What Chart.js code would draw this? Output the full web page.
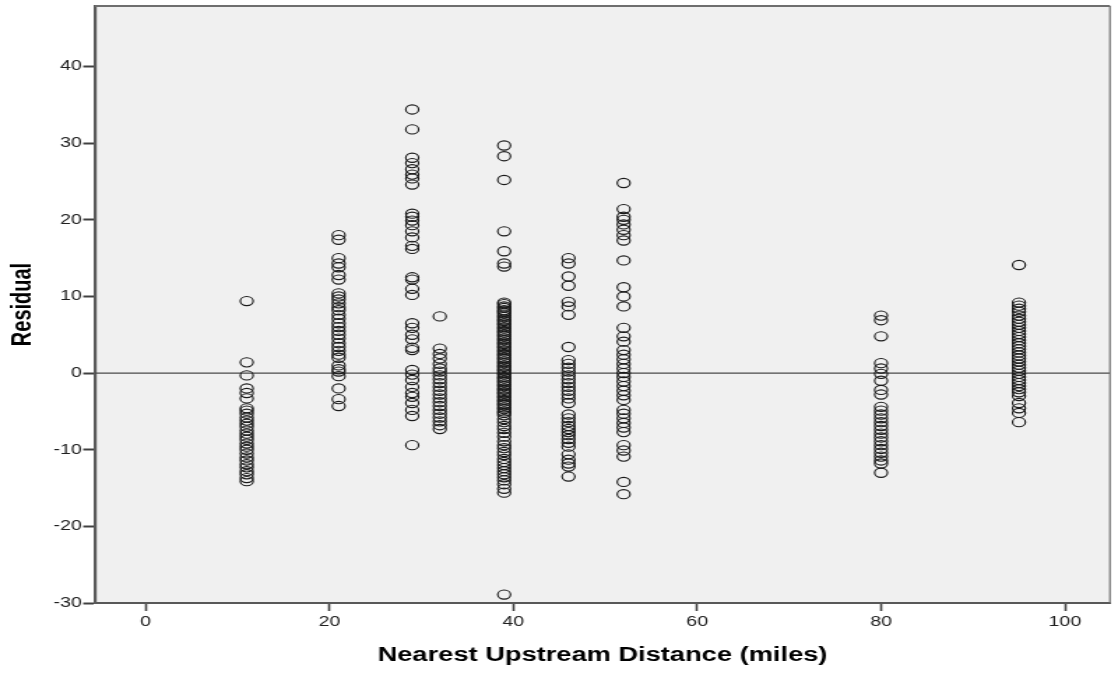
<!DOCTYPE html>
<html>
<head>
<meta charset="utf-8">
<script src="https://cdn.jsdelivr.net/npm/chart.js@4.4.0/dist/chart.umd.min.js"></script>
<style>
  html, body { margin: 0; padding: 0; background: #ffffff; }
  #wrap { width: 1118px; height: 673px; }
</style>
</head>
<body>
<div id="wrap">
  <canvas id="residChart" width="800" height="673" style="width:1118px;height:673px"></canvas>
</div>
<script>
//Data---------------------------------------------------

// nearest upstream distance (miles) for each group of sites
const distances = [11, 21, 29, 32, 39, 46, 52, 80, 95];

// residuals read per distance group
const resid11 = [9.4, 1.4, -0.3, -2.0, -2.6, -3.3, -4.6, -4.9, -5.3, -5.8, -6.2, -6.6, -7.0, -7.5, -7.9,
    -8.3, -8.7, -9.2, -9.6, -10.0, -10.5, -11.0, -11.4, -11.9, -12.3, -12.8, -13.2, -13.7, -14.1];
const resid21 = [18.0, 17.4, 15.0, 14.3, 13.8, 12.8, 12.2, 10.4, 10.0, 9.6, 9.1, 8.6, 8.2, 7.6, 7.1, 6.5,
    6.0, 5.5, 5.0, 4.5, 3.9, 3.4, 2.9, 2.4, 2.0, 1.0, 0.5, 0.2, -0.4, -2.0, -3.4, -4.3];
const resid29 = [34.4, 31.8, 28.1, 27.4, 26.6, 25.9, 25.4, 24.6, 20.8, 20.4, 19.9, 19.3, 18.5, 17.7, 16.6,
    16.2, 12.5, 12.2, 11.0, 10.2, 6.5, 5.9, 5.0, 4.4, 3.3, 3.0, 0.4, -0.2, -0.9, -1.8, -2.6, -3.1, -3.9,
    -4.8, -5.6, -9.4];
const resid32 = [7.4, 3.2, 2.5, 1.9, 1.2, 0.6, 0.2, -0.3, -0.8, -1.3, -1.8, -2.3, -2.8, -3.3, -3.8, -4.3,
    -4.8, -5.3, -5.8, -6.3, -6.8, -7.3];
const resid39 = [29.7, 28.3, 25.2, 18.5, 15.9, 14.3, 13.9,
    9.2, 9.0, 8.7, 8.5, 8.2, 8.0, 7.8, 7.5, 7.3, 7.0, 6.8, 6.5, 6.3, 6.0, 5.8, 5.5, 5.3, 5.0, 4.8, 4.5,
    4.3, 4.0, 3.8, 3.5, 3.3, 3.0, 2.8, 2.5, 2.3, 2.0, 1.8, 1.5, 1.3, 1.0, 0.8, 0.5, 0.3, 0.0, -0.2, -0.5,
    -0.7, -1.0, -1.2, -1.5, -1.7, -2.0, -2.2, -2.5, -2.7, -3.0, -3.2, -3.5, -3.7, -4.0, -4.2, -4.5, -4.7,
    -5.0, -5.2, -5.5,
    -6.0, -6.4, -6.9, -7.3, -7.8, -8.3, -8.9, -9.4, -9.8, -10.3, -10.7, -11.2, -11.6, -12.0, -12.4,
    -12.8, -13.2, -13.6, -14.0, -14.5, -15.1, -15.6, -28.9];
const resid46 = [15.0, 14.3, 12.6, 11.4, 9.3, 8.7, 7.6, 3.4, 1.7, 1.2, 0.7, 0.2, -0.3, -0.8, -1.3, -1.8,
    -2.3, -2.8, -3.3, -3.9, -5.4, -5.9, -6.4, -6.9, -7.3, -7.7, -8.1, -8.6, -9.1, -9.6, -10.6, -11.3,
    -11.8, -12.2, -13.5];
const resid52 = [24.8, 21.4, 20.4, 20.0, 19.4, 18.7, 18.0, 17.3, 14.7, 11.2, 10.0, 8.7, 5.9, 4.8, 4.1,
    3.0, 2.4, 1.8, 1.2, 0.6, 0.0, -0.5, -1.1, -1.7, -2.3, -2.9, -3.5, -4.8, -5.3, -5.9, -6.5, -7.1, -7.7,
    -9.4, -10.1, -10.9, -14.2, -15.8];
const resid80 = [7.5, 6.9, 4.8, 1.3, 0.6, -0.1, -1.0, -2.2, -2.8, -4.4, -4.9, -5.4, -5.9, -6.4, -6.9,
    -7.4, -7.9, -8.4, -8.9, -9.4, -9.9, -10.4, -10.9, -11.4, -11.8, -13.0];
const resid95 = [14.1, 9.2, 8.8, 8.4, 8.0, 7.5, 7.1, 6.7, 6.3, 5.9, 5.5, 5.1, 4.7, 4.3, 3.9, 3.5, 3.1,
    2.7, 2.3, 1.9, 1.5, 1.1, 0.7, 0.3, -0.1, -0.5, -0.9, -1.3, -1.7, -2.1, -2.5, -3.0, -3.9, -4.6, -5.2,
    -6.4];

const residGroups = [resid11, resid21, resid29, resid32, resid39, resid46, resid52, resid80, resid95];

// axis ranges and ticks
const xRange = [-5.5, 104.9];
const yRange = [-30, 47.9];
const xStep = 20;
const yStep = 10;

//Points---------------------------------------------------

const points = [];
distances.forEach((d, i) => {
    residGroups[i].forEach(r => points.push({ x: d, y: r }));
});

//  plot area fill and frame
const plotFrame = {
    id: 'plotFrame',
    beforeDraw(chart) {
        const { ctx, chartArea: a } = chart;
        ctx.save();
        ctx.fillStyle = '#f0f0f0';
        ctx.fillRect(a.left, a.top, a.right - a.left, a.bottom - a.top);
        ctx.restore();
    },
    afterDraw(chart) {
        const { ctx, chartArea: a } = chart;
        ctx.save();
        ctx.strokeStyle = '#6e6e6e';
        ctx.lineWidth = 2;
        ctx.beginPath();
        ctx.moveTo(a.left, a.top);
        ctx.lineTo(a.right, a.top);
        ctx.stroke();
        ctx.lineWidth = 1.2;
        ctx.beginPath();
        ctx.moveTo(a.right, a.top);
        ctx.lineTo(a.right, a.bottom);
        ctx.stroke();
        ctx.restore();
    }
};

const tickFont = { family: '"Liberation Sans", Arial, sans-serif', size: 14 };
const titleFont = { family: '"Liberation Sans", Arial, sans-serif', size: 19.5, weight: 'bold' };

const data = {
    datasets: [
        {
            type: 'scatter',
            label: 'Residual',
            data: points,
            pointStyle: 'circle',
            pointRadius: 4.6,
            pointBorderWidth: 1.15,
            pointBorderColor: '#1a1a1a',
            pointBackgroundColor: 'rgba(0,0,0,0)',
            order: 1
        },
        {
            type: 'line',
            label: 'zero',
            data: [{ x: xRange[0], y: 0 }, { x: xRange[1], y: 0 }],
            borderColor: '#4a4a4a',
            borderWidth: 1.3,
            pointRadius: 0,
            order: 2
        }
    ]
};

const options = {
    responsive: false,
    devicePixelRatio: 1,
    animation: false,
    events: [],
    layout: {
        padding: { top: 6, right: 3.6, left: 0, bottom: 0 }
    },
    plugins: {
        legend: { display: false },
        tooltip: { enabled: false }
    },
    scales: {
        x: {
            type: 'linear',
            min: xRange[0],
            max: xRange[1],
            afterFit(scale) {
                scale.height = 70;
                scale.paddingLeft = 0;
                scale.paddingRight = 0;
            },
            border: { color: '#585858', width: 2 },
            grid: {
                drawOnChartArea: false,
                tickLength: 8,
                tickColor: '#404040',
                tickWidth: 1.6
            },
            ticks: {
                stepSize: xStep,
                includeBounds: false,
                color: '#202020',
                font: tickFont,
                padding: 3,
                maxRotation: 0
            },
            title: {
                display: true,
                text: 'Nearest Upstream Distance (miles)',
                color: '#000000',
                font: titleFont,
                padding: { top: 0, bottom: 6 }
            }
        },
        y: {
            type: 'linear',
            min: yRange[0],
            max: yRange[1],
            afterFit(scale) {
                scale.width = 68;
                scale.paddingTop = 0;
                scale.paddingBottom = 0;
            },
            border: { color: '#5a5a5a', width: 2.2 },
            grid: {
                drawOnChartArea: false,
                tickLength: 8.5,
                tickColor: '#404040',
                tickWidth: 2
            },
            ticks: {
                stepSize: yStep,
                includeBounds: false,
                color: '#202020',
                font: tickFont,
                padding: 1
            },
            title: {
                display: true,
                text: 'Residual',
                color: '#000000',
                font: { family: '"Liberation Sans", Arial, sans-serif', size: 20, weight: 'bold' },
                padding: { top: 4.5, bottom: 0 }
            }
        }
    }
};

const config = {
    type: 'scatter',
    data,
    options,
    plugins: [plotFrame]
};

const residChart = new Chart(
    document.getElementById('residChart'),
    config
);
</script>
</body>
</html>
